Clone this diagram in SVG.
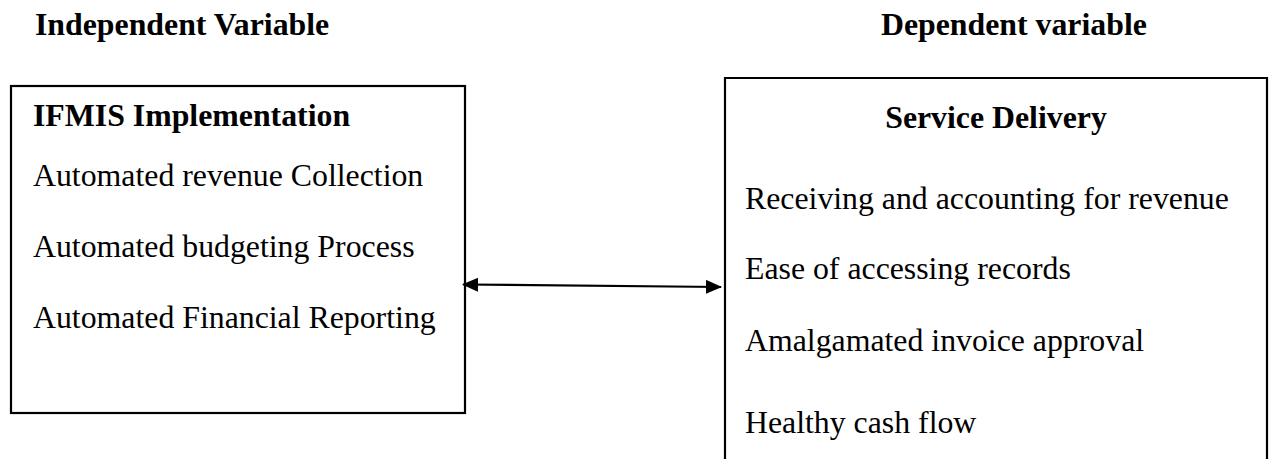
<svg xmlns="http://www.w3.org/2000/svg" width="1272" height="459" viewBox="0 0 1272 459">
<style>
.t{font-family:"Liberation Serif","Times New Roman",serif;font-size:31.8px;fill:#000}
.b{font-weight:bold}
.box{fill:#fff;stroke:#000;stroke-width:2.2}
.conn{stroke:#000;stroke-width:2.2;fill:none}
</style>
<defs>
<marker id="ah" viewBox="0 0 16 14" refX="15" refY="7" markerWidth="16" markerHeight="14" markerUnits="userSpaceOnUse" orient="auto-start-reverse">
<path d="M0,0 L16,7 L0,14 z" fill="#000"/>
</marker>
</defs>
<rect width="1272" height="459" fill="#fff"/>
<text class="t b" x="35" y="35">Independent Variable</text>
<text class="t b" x="881" y="35">Dependent variable</text>
<g id="ifmis">
<rect class="box" x="11" y="86" width="454" height="327"/>
<text class="t b" x="33" y="126">IFMIS Implementation</text>
<text class="t" x="33" y="186">Automated revenue Collection</text>
<text class="t" x="33" y="257">Automated budgeting Process</text>
<text class="t" x="33" y="328">Automated Financial Reporting</text>
</g>
<g id="service">
<path class="box" d="M725,470 V78 H1267 V470"/>
<text class="t b" x="996" y="128" text-anchor="middle">Service Delivery</text>
<text class="t" x="745" y="209">Receiving and accounting for revenue</text>
<text class="t" x="745" y="279">Ease of accessing records</text>
<text class="t" x="745" y="351">Amalgamated invoice approval</text>
<text class="t" x="745" y="433">Healthy cash flow</text>
</g>
<g id="connectors">
<line class="conn" x1="463" y1="284.5" x2="721" y2="287" marker-start="url(#ah)" marker-end="url(#ah)"/>
</g>
</svg>
